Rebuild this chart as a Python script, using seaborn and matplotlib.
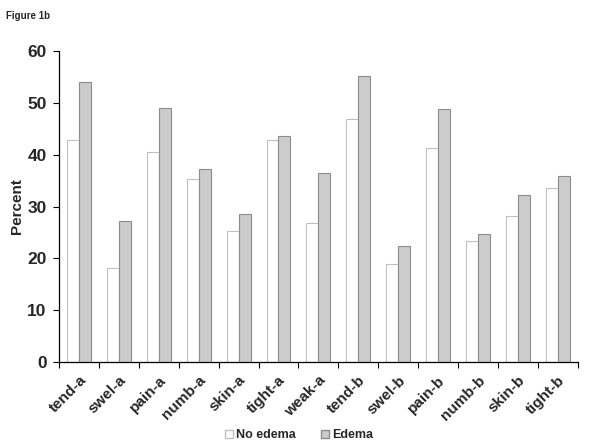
import seaborn as sns
import matplotlib.pyplot as plt
import numpy as np
import pandas as pd

symptoms = ['tend-a', 'swel-a', 'pain-a', 'numb-a', 'skin-a', 'tight-a', 'weak-a',
            'tend-b', 'swel-b', 'pain-b', 'numb-b', 'skin-b', 'tight-b']
no_edema = [42.8, 18.2, 40.5, 35.4, 25.2, 42.8, 26.8, 46.8, 18.9, 41.2, 23.4, 28.2, 33.5]
edema = [54.1, 27.2, 49.1, 37.2, 28.5, 43.7, 36.5, 55.1, 22.4, 48.8, 24.7, 32.2, 35.8]

df = pd.DataFrame({
	'symptom': symptoms * 2,
	'percent': no_edema + edema,
	'group': ['No edema'] * len(symptoms) + ['Edema'] * len(symptoms),
})

sns.set_style('white')
plt.rcParams['font.family'] = ['Liberation Sans', 'DejaVu Sans']

fig = plt.figure(figsize=(6.03, 4.48), dpi=100)
ax = fig.add_axes([0.098, 0.192, 0.86, 0.694])
sns.barplot(data=df, x='symptom', y='percent', hue='group', order=symptoms,
			hue_order=['No edema', 'Edema'], palette=['white', '#cccccc'],
			width=0.6, ax=ax, legend=True)

# edge colours like the original
n = len(symptoms)
for i, p in enumerate(ax.patches[:2 * n]):
	p.set_linewidth(0.8)
	p.set_edgecolor('#c0c0c0' if i < n else '#8c8c8c')

ax.set_ylim(0, 60)
ax.set_xlim(-0.5, n - 0.5)
ax.set_yticks(np.arange(0, 61, 10))
ax.set_yticklabels([str(v) for v in range(0, 61, 10)], fontsize=12.5, fontweight='bold')
ax.set_xticks(range(n))
ax.set_xticklabels(symptoms, rotation=45, ha='right', rotation_mode='anchor',
				   fontsize=11, fontweight='bold')
ax.tick_params(axis='x', length=0, pad=8)
# minor ticks between categories
ax.set_xticks(np.arange(-0.5, n, 1), minor=True)
ax.tick_params(axis='x', which='minor', length=4, width=0.8, color='black', direction='out')
ax.tick_params(axis='y', length=4, width=0.8, color='black', direction='out', pad=5)
ax.yaxis.set_ticks_position('left')
ax.xaxis.set_ticks_position('bottom')
ax.set_xlabel('')
ax.set_ylabel('Percent', fontsize=11, fontweight='bold', labelpad=2)
for s in ['top', 'right']:
	ax.spines[s].set_visible(False)
for s in ['left', 'bottom']:
	ax.spines[s].set_color('black')
	ax.spines[s].set_linewidth(0.9)

h, l = ax.get_legend_handles_labels()
for hh, ec in zip(h, ['#c0c0c0', '#8c8c8c']):
	hh.set_edgecolor(ec)
ax.legend(h, l, loc='center', bbox_to_anchor=(0.463, -0.235), ncol=2, frameon=False,
		  prop={'weight': 'bold', 'size': 9}, handlelength=0.6, handleheight=0.6,
		  handletextpad=0.3, columnspacing=2.0)

fig.text(0.01, 0.975, 'Figure 1b', fontsize=7, fontweight='bold', va='top')

plt.savefig('out.png', dpi=100)
